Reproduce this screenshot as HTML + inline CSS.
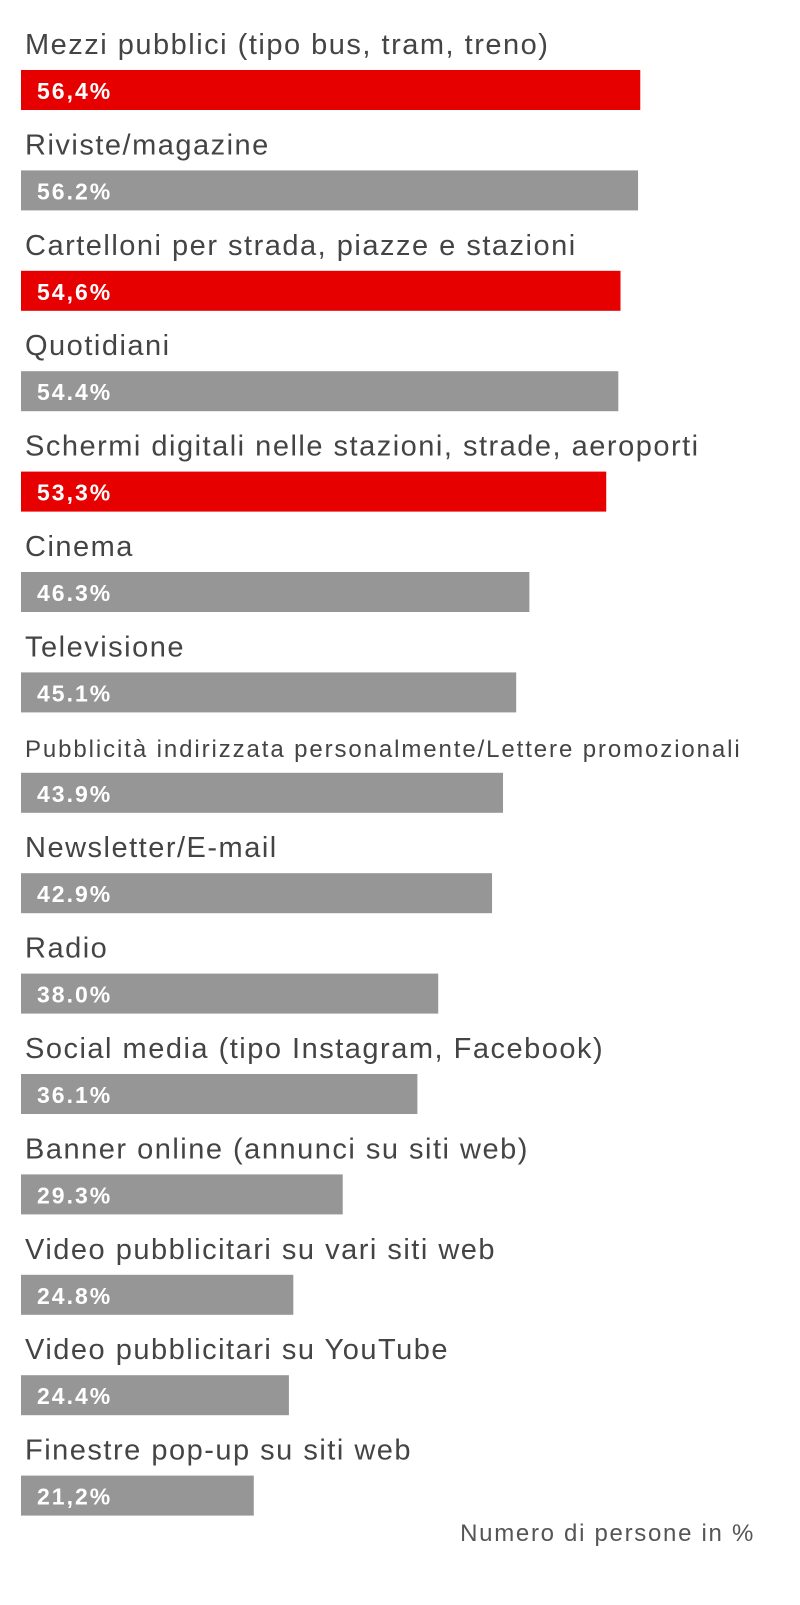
<!DOCTYPE html>
<html><head><meta charset="utf-8"><style>
body{margin:0;background:#fff;width:800px;height:1600px;overflow:hidden;}
svg text{font-family:"Liberation Sans",sans-serif;}
</style></head><body>
<svg id="chart" width="800" height="1600"></svg>
<script>
const categories=["Mezzi pubblici (tipo bus, tram, treno)","Riviste/magazine","Cartelloni per strada, piazze e stazioni","Quotidiani","Schermi digitali nelle stazioni, strade, aeroporti","Cinema","Televisione","Pubblicità indirizzata personalmente/Lettere promozionali","Newsletter/E-mail","Radio","Social media (tipo Instagram, Facebook)","Banner online (annunci su siti web)","Video pubblicitari su vari siti web","Video pubblicitari su YouTube","Finestre pop-up su siti web"];
const values=[56.4,56.2,54.6,54.4,53.3,46.3,45.1,43.9,42.9,38.0,36.1,29.3,24.8,24.4,21.2];
const valueLabels=["56,4%","56.2%","54,6%","54.4%","53,3%","46.3%","45.1%","43.9%","42.9%","38.0%","36.1%","29.3%","24.8%","24.4%","21,2%"];
const highlighted=[true,false,true,false,true,false,false,false,false,false,false,false,false,false,false];
const NS="http://www.w3.org/2000/svg";
const svg=document.getElementById('chart');
const x=v=>v*10.98;
const y=i=>70+i*100.4;
function mk(t,a){const e=document.createElementNS(NS,t);for(const k in a)e.setAttribute(k,a[k]);return e;}
categories.forEach((c,i)=>{
  const small=c.length>50;
  const lab=mk('text',{x:25,y:y(i)-16,'font-size':small?24:29,fill:'#444','letter-spacing':small?1.9:1.5});
  lab.textContent=c;
  
  
  svg.appendChild(lab);
  const r=mk('rect',{x:21,y:y(i),width:x(values[i]),height:40,fill:highlighted[i]?'#e60000':'#969696'});
  
  
  svg.appendChild(r);
  const v=mk('text',{x:37,y:y(i)+29,'font-size':23,'font-weight':'bold',fill:'#fff','letter-spacing':2});
  v.textContent=valueLabels[i];
  
  
  svg.appendChild(v);
});
const f=mk('text',{x:755,y:1541,'font-size':24,fill:'#555','text-anchor':'end','letter-spacing':1.7});
f.textContent="Numero di persone in %";


svg.appendChild(f);
</script>
</body></html>
